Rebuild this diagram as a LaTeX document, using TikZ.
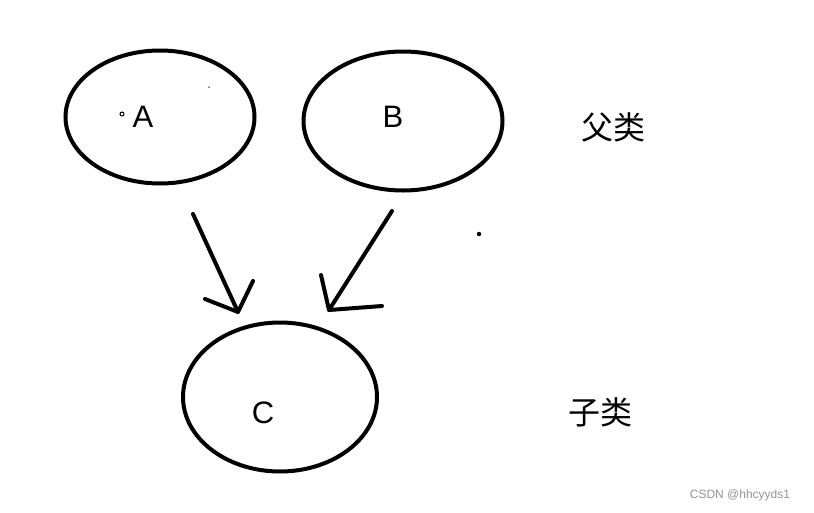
\documentclass[tikz,border=0pt]{standalone}
\usepackage{fontspec}
\setmainfont{Liberation Sans}
\newfontfamily\cjk{Noto Sans CJK SC}
\usetikzlibrary{shapes.geometric}
\begin{document}
\begin{tikzpicture}[x=1pt,y=-1pt,
  oval/.style={draw,ellipse,line width=4pt,inner sep=0pt},
  letter/.style={font=\fontsize{31}{31}\selectfont,inner sep=0pt},
  cjklabel/.style={font=\cjk\fontsize{32}{32}\selectfont,inner sep=0pt},
  stroke/.style={line width=4pt,line cap=round,line join=round}]
\useasboundingbox[fill=white] (0,0) rectangle (814,512);
\node[oval,minimum width=189pt,minimum height=133pt] (A) at (160,117) {};
\node[oval,minimum width=199pt,minimum height=139pt] (B) at (403,121) {};
\node[oval,minimum width=194pt,minimum height=149pt] (C) at (280,397) {};
\node[letter] (ta) at (143,117) {A};
\node[letter] (tb) at (393,117) {B};
\node[letter] (tc) at (263,413) {C};
\node[cjklabel] (fu) at (613,127) {父类};
\node[cjklabel] (zi) at (600,412) {子类};
\node[font=\fontsize{12}{12}\selectfont,text=black!42,inner sep=0pt] (wm) at (740,495) {CSDN @hhcyyds1};
% arrow from A to C
\coordinate (a1s) at (193,214);
\coordinate (a1t) at (238,312);
\coordinate (a1l) at (205,299);
\coordinate (a1r) at (253,281);
\draw[stroke] (a1s) -- (a1t);
\draw[stroke] (a1l) -- (a1t) -- (a1r);
% arrow from B to C
\coordinate (a2s) at (392,211);
\coordinate (a2t) at (329,310);
\coordinate (a2u) at (321,275);
\coordinate (a2r) at (382,306);
\draw[stroke] (a2s) -- (a2t);
\draw[stroke] (a2u) -- (a2t) -- (a2r);
% stray marks
\node[draw,circle,line width=1pt,minimum size=4pt,inner sep=0pt] (d1) at (122,114) {};
\node[fill,circle,minimum size=1.5pt,inner sep=0pt] (d2) at (209,87) {};
\node[fill,circle,minimum size=4.5pt,inner sep=0pt] (d3) at (479,234) {};
\end{tikzpicture}
\end{document}
